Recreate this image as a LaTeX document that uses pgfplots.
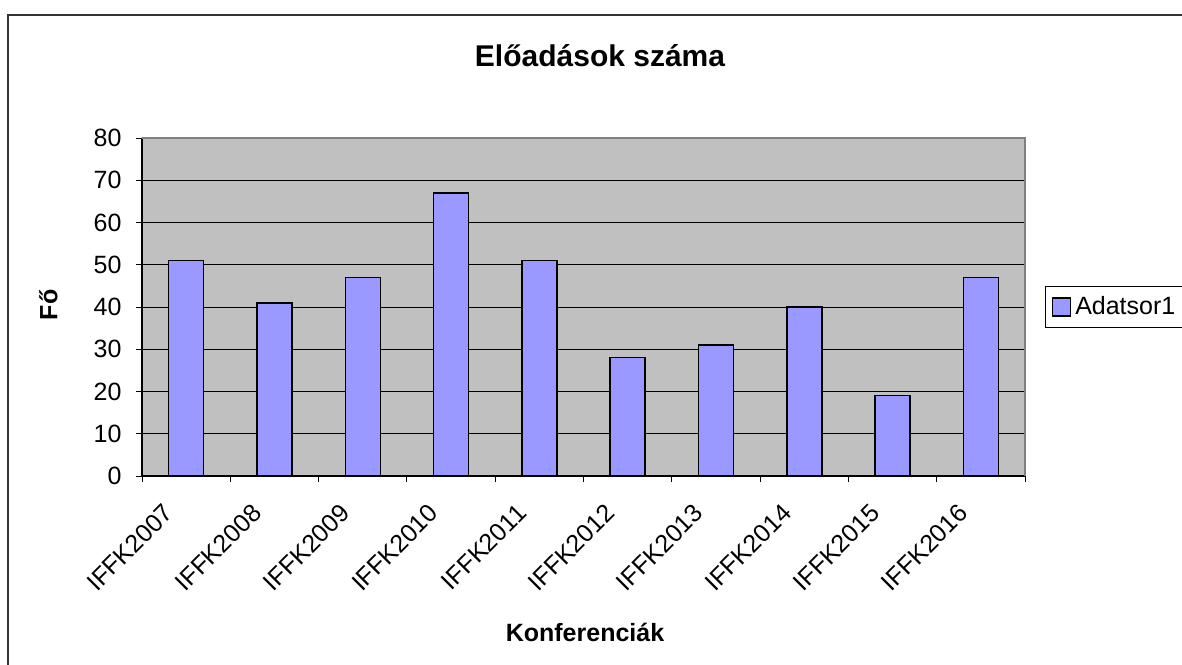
\documentclass[border=0pt]{standalone}
\usepackage{pgfplots}
\pgfplotsset{compat=1.18}
\usepackage{fontspec}
\setmainfont{Liberation Sans}
\definecolor{barfill}{HTML}{9999FF}
\definecolor{plotbg}{HTML}{C0C0C0}
\begin{document}
\begin{tikzpicture}
\useasboundingbox (0,0) rectangle (472.8pt,265.6pt);
\draw[line width=0.8pt, black!80] (3.2pt,-2pt) -- (3.2pt,259.6pt) -- (476pt,259.6pt);
\begin{axis}[
  at={(56.8pt,75.2pt)}, anchor=south west,
  scale only axis, width=353.2pt, height=135.2pt,
  clip=false,
  axis background/.style={fill=plotbg},
  axis x line*=bottom, axis y line*=left,
  axis line style={-, black, line width=0.5pt},
  xmin=0.5, xmax=10.5, ymin=0, ymax=80,
  ytick={0,10,...,80},
  ymajorgrids, grid style={black, line width=0.4pt},
  tick align=outside, major tick length=2.4pt,
  tick style={black, line width=0.4pt},
  xtick={1,2,...,10},
  xtick style={draw=none},
  xticklabels={IFFK2007,IFFK2008,IFFK2009,IFFK2010,IFFK2011,IFFK2012,IFFK2013,IFFK2014,IFFK2015,IFFK2016},
  xticklabel style={xshift=-9.5pt, yshift=-8pt, rotate=45, anchor=north east, inner sep=0pt},
  ticklabel style={font=\fontsize{10}{12}\selectfont},
  yticklabel style={inner sep=0pt, xshift=-5.6pt},
  /pgf/number format/assume math mode=true,
  title={Előadások száma},
  title style={at={(rel axis cs:0.5187,1.213)}, anchor=base, yshift=-6pt, font=\bfseries\fontsize{12}{14}\selectfont, inner sep=0pt},
  xlabel={Konferenciák},
  xlabel style={at={(rel axis cs:0.5017,-0.490)}, anchor=base, font=\bfseries\fontsize{10}{12}\selectfont, inner sep=0pt},
  ylabel={Fő},
  ylabel style={at={(rel axis cs:-0.0959,0.506)}, anchor=base, font=\bfseries\fontsize{10}{12}\selectfont, inner sep=0pt},
  legend style={at={(rel axis cs:1,0.5)}, anchor=west, xshift=8pt, draw=black, line width=0.4pt,
     font=\fontsize{10}{12}\selectfont, inner xsep=2.4pt, inner ysep=3pt,
     nodes={inner xsep=1.8pt, inner ysep=1pt}},
  legend image code/.code={\draw[#1, draw=black, line width=0.5pt] (0pt,-3.6pt) rectangle (7.2pt,3.6pt);},
]
\addplot[ybar, bar width=14pt, fill=barfill, draw=black, line width=0.6pt]
  coordinates {(1,51) (2,41) (3,47) (4,67) (5,51) (6,28) (7,31) (8,40) (9,19) (10,47)};
\addlegendentry{Adatsor1}
\draw[gray, line width=0.5pt] (rel axis cs:0,1) -- (rel axis cs:1,1) -- (rel axis cs:1,0);
\pgfplotsinvokeforeach{0.5,1.5,...,10.5}{\draw[black, line width=0.4pt] (axis cs:#1,0) -- ++(0pt,-2.4pt);}
\end{axis}
\end{tikzpicture}
\end{document}
